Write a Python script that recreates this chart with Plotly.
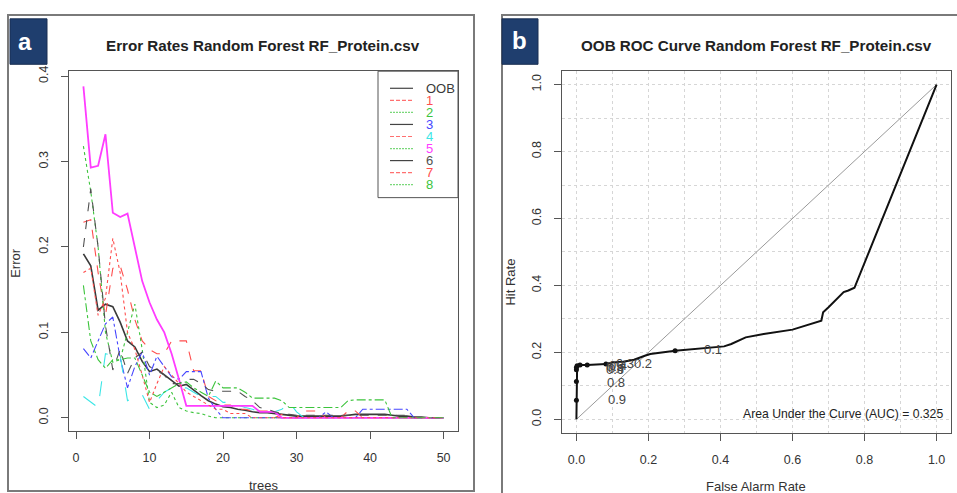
import plotly.graph_objects as go

W, H = 957, 493

# ---------------- data: panel a (error rates) ----------------
trees = list(range(1, 51))
err_oob = [0.192,0.178,0.126,0.133,0.130,0.112,0.090,0.083,0.066,0.054,
           0.057,0.050,0.043,0.037,0.039,0.032,0.026,0.020,0.016,0.013,
           0.012,0.010,0.009,0.007,0.006,0.006,0.005,0.004,0.003,0.002,
           0.002,0.002,0.002,0.002,0.002,0.002,0.003,0.004,0.004,0.004,
           0.004,0.004,0.003,0.002,0.002,0.001,0.001,0.000,0.000,0.000]
err_1 = [0.229,0.232,0.170,0.120,0.175,0.178,0.150,0.115,0.090,0.080,
         0.075,0.075,0.090,0.090,0.090,0.055,0.055,0.025,0.020,0.015,
         0.015,0.010,0.010,0.008,0.008,0.008,0.000,0.004,0.000,0.000,
         0.008,0.008,0.008,0.000,0.000,0.000,0.008,0.008,0.000,0.000,
         0.000,0.000,0.000,0.000,0.000,0.000,0.000,0.000,0.000,0.000]
err_2 = [0.318,0.265,0.200,0.100,0.065,0.068,0.100,0.133,0.080,0.018,
         0.012,0.015,0.030,0.012,0.008,0.006,0.005,0.002,0.000,0.000,
         0.000,0.000,0.000,0.000,0.000,0.000,0.000,0.000,0.000,0.000,
         0.000,0.000,0.000,0.000,0.000,0.000,0.000,0.000,0.000,0.000,
         0.000,0.000,0.000,0.000,0.000,0.000,0.000,0.000,0.000,0.000]
err_3 = [0.081,0.070,0.090,0.110,0.118,0.070,0.035,0.060,0.077,0.050,
         0.072,0.060,0.048,0.045,0.054,0.054,0.054,0.023,0.010,0.000,
         0.000,0.000,0.000,0.000,0.000,0.000,0.000,0.000,0.000,0.000,
         0.000,0.000,0.000,0.007,0.000,0.000,0.000,0.000,0.010,0.010,
         0.010,0.010,0.010,0.010,0.010,0.000,0.000,0.000,0.000,0.000]
err_4 = [0.025,0.018,0.012,0.075,0.073,0.073,0.020,0.024,0.027,0.010,
         0.020,0.030,0.035,0.035,0.035,0.030,0.025,0.025,0.025,0.018,
         0.018,0.015,0.012,0.010,0.007,0.007,0.007,0.010,0.018,0.007,
         0.000,0.000,0.000,0.000,0.000,0.000,0.000,0.000,0.000,0.000,
         0.000,0.000,0.000,0.000,0.000,0.000,0.000,0.000,0.000,0.000]
err_5 = [0.388,0.293,0.295,0.332,0.240,0.235,0.239,0.200,0.160,0.135,
         0.115,0.100,0.075,0.045,0.014,0.014,0.014,0.014,0.014,0.014,
         0.014,0.014,0.014,0.014,0.007,0.007,0.007,0.000,0.000,0.000,
         0.000,0.000,0.000,0.000,0.000,0.000,0.000,0.000,0.000,0.000,
         0.000,0.000,0.000,0.000,0.000,0.000,0.000,0.000,0.000,0.000]
err_6 = [0.200,0.268,0.200,0.108,0.056,0.080,0.052,0.070,0.077,0.060,
         0.055,0.050,0.040,0.040,0.045,0.045,0.040,0.033,0.031,0.031,
         0.031,0.031,0.025,0.020,0.012,0.010,0.007,0.005,0.004,0.003,
         0.003,0.003,0.003,0.003,0.003,0.003,0.003,0.003,0.003,0.003,
         0.003,0.003,0.003,0.003,0.003,0.000,0.000,0.000,0.000,0.000]
err_7 = [0.170,0.175,0.120,0.140,0.210,0.170,0.100,0.080,0.050,0.018,
         0.040,0.060,0.050,0.040,0.030,0.025,0.020,0.015,0.010,0.010,
         0.005,0.005,0.005,0.000,0.000,0.000,0.000,0.000,0.000,0.000,
         0.000,0.000,0.000,0.000,0.000,0.000,0.000,0.000,0.000,0.000,
         0.000,0.000,0.000,0.000,0.000,0.000,0.000,0.000,0.000,0.000]
err_8 = [0.155,0.090,0.068,0.058,0.068,0.068,0.070,0.070,0.050,0.030,
         0.025,0.030,0.035,0.040,0.042,0.035,0.030,0.025,0.043,0.035,
         0.035,0.035,0.030,0.023,0.023,0.023,0.023,0.020,0.012,0.012,
         0.012,0.012,0.012,0.012,0.012,0.012,0.020,0.021,0.021,0.021,
         0.021,0.021,0.000,0.000,0.000,0.000,0.000,0.000,0.000,0.000]

series_names = ["OOB", "1", "2", "3", "4", "5", "6", "7", "8"]
series_vals = [err_oob, err_1, err_2, err_3, err_4, err_5, err_6, err_7, err_8]
series_colors = ["#3a3a3a", "#ff4d4d", "#3cc43c", "#4646ff", "#3ce6e6",
                 "#ff3cff", "#505050", "#ff4d4d", "#3cc43c"]
series_dash = ["solid", "dash", "dot", "dashdot", "longdash",
               "solid", "dash", "dot", "dashdot"]
series_width = [1.6, 1.1, 1.1, 1.1, 1.1, 1.8, 1.1, 1.1, 1.1]
legend_line_colors = ["#444444", "#ff7070", "#7ad87a"] * 3
legend_line_dash = ["solid", "4px,2px", "2px,1px"] * 3

xticks_a = [0, 10, 20, 30, 40, 50]
yticks_a = [0.0, 0.1, 0.2, 0.3, 0.4]

# ---------------- data: panel b (ROC) ----------------
roc_far = [0.0, 0.0, 0.0, 0.0, 0.0, 0.002, 0.010, 0.030, 0.082, 0.100,
           0.130, 0.160, 0.190, 0.205, 0.274, 0.350, 0.410, 0.430, 0.450,
           0.470, 0.520, 0.600, 0.680, 0.685, 0.700, 0.720, 0.735, 0.742,
           0.755, 0.765, 0.772, 1.0]
roc_hit = [0.0, 0.057, 0.113, 0.148, 0.155, 0.160, 0.162, 0.162, 0.165,
           0.170, 0.172, 0.178, 0.190, 0.195, 0.205, 0.212, 0.218, 0.225,
           0.235, 0.245, 0.255, 0.268, 0.295, 0.320, 0.335, 0.355, 0.370,
           0.380, 0.385, 0.390, 0.393, 1.0]
thr_labels = ["0.9", "0.8", "0.7", "0.6", "0.5", "0.4", "0.3", "0.2", "0.1"]
thr_far = [0.0, 0.0, 0.0, 0.0, 0.002, 0.010, 0.030, 0.082, 0.274]
thr_hit = [0.057, 0.113, 0.148, 0.155, 0.160, 0.162, 0.162, 0.165, 0.205]
thr_text_x = [0.114, 0.111, 0.112, 0.106, 0.108, 0.116, 0.136, 0.185, 0.380]
thr_text_y = [0.060, 0.110, 0.152, 0.148, 0.158, 0.162, 0.168, 0.167, 0.208]
auc_text = "Area Under the Curve (AUC) = 0.325"
ticks_b = [0.0, 0.2, 0.4, 0.6, 0.8, 1.0]

FONT = "Liberation Sans, Arial, sans-serif"
px = lambda x: x / W
py = lambda y: 1 - y / H

fig = go.Figure()

for name, vals, col, dash, wd in zip(series_names, series_vals, series_colors,
                                     series_dash, series_width):
    fig.add_trace(go.Scatter(x=trees, y=vals, mode="lines", name=name,
                             line=dict(color=col, dash=dash, width=wd),
                             xaxis="x", yaxis="y", showlegend=False))

fig.add_trace(go.Scatter(x=[0, 1], y=[0, 1], mode="lines",
                         line=dict(color="#9a9a9a", width=1),
                         xaxis="x2", yaxis="y2", showlegend=False))
fig.add_trace(go.Scatter(x=roc_far, y=roc_hit, mode="lines",
                         line=dict(color="#111111", width=2),
                         xaxis="x2", yaxis="y2", showlegend=False))
fig.add_trace(go.Scatter(x=thr_far, y=thr_hit, mode="markers",
                         marker=dict(color="#111111", size=5),
                         xaxis="x2", yaxis="y2", showlegend=False))

axis_common = dict(showline=True, linecolor="#555555", linewidth=1, mirror=True,
                   ticks="outside", ticklen=7, tickcolor="#555555",
                   zeroline=False,
                   tickfont=dict(family=FONT, size=12.5, color="#333333"))
grid_b = dict(showgrid=True, gridcolor="#d6d6d6", griddash="dot", gridwidth=1,
              minor=dict(dtick=0.1, tick0=0, showgrid=True, gridcolor="#d6d6d6",
                         griddash="dot", ticks=""))

fig.update_layout(
    width=W, height=H, margin=dict(l=0, r=0, t=0, b=0),
    paper_bgcolor="white", plot_bgcolor="white",
    xaxis=dict(domain=[px(69), px(458)], range=[-0.96, 51.96], anchor="y",
               tickvals=xticks_a, ticklabelstandoff=8, showgrid=False, **axis_common),
    yaxis=dict(domain=[py(430), py(66)], range=[-0.0152, 0.4058], anchor="x",
               tickvals=yticks_a, tickangle=-90, ticklabelstandoff=8,
               tickformat=".1f", showgrid=False, **axis_common),
    xaxis2=dict(domain=[px(562), px(951)], range=[-0.04, 1.04], anchor="y2",
                tickvals=ticks_b, tickformat=".1f", ticklabelstandoff=8,
                **axis_common, **grid_b),
    yaxis2=dict(domain=[py(432), py(66)], range=[-0.04, 1.04], anchor="x2",
                tickvals=ticks_b, tickformat=".1f", tickangle=-90, ticklabelstandoff=8,
                **axis_common, **grid_b),
)

shapes = []
# panel frames
shapes.append(dict(type="rect", xref="paper", yref="paper", x0=px(8), x1=px(474),
                   y0=py(491), y1=py(9), line=dict(color="#7a7a7a", width=2)))
shapes.append(dict(type="rect", xref="paper", yref="paper", x0=px(502), x1=px(965),
                   y0=py(500), y1=py(9), line=dict(color="#7a7a7a", width=2)))
# blue label boxes
for x0, x1 in [(10, 47), (502, 538)]:
    shapes.append(dict(type="rect", xref="paper", yref="paper", x0=px(x0), x1=px(x1),
                       y0=py(59), y1=py(13), fillcolor="#1f3e6e",
                       line=dict(color="#1a2f52", width=1)))
# legend box
shapes.append(dict(type="rect", xref="paper", yref="paper", x0=px(378), x1=px(458),
                   y0=py(194), y1=py(66), fillcolor="white",
                   line=dict(color="#555555", width=1)))
annotations = []
leg_y0, leg_dy = 83.3, 12.2
for i, name in enumerate(series_names):
    yy = leg_y0 + i * leg_dy
    shapes.append(dict(type="line", xref="paper", yref="paper", x0=px(390), x1=px(413),
                       y0=py(yy), y1=py(yy),
                       line=dict(color=legend_line_colors[i], dash=legend_line_dash[i],
                                 width=1.2)))
    annotations.append(dict(text=name, xref="paper", yref="paper", x=px(424), y=py(yy),
                            xanchor="left", yanchor="middle", showarrow=False,
                            font=dict(family=FONT, size=13, color=series_colors[i])))


def ann(text, x, y, size=12, color="#333333", angle=0, xanchor="center", bold=False):
    return dict(text=f"<b>{text}</b>" if bold else text, x=px(x), y=py(y),
                xref="paper", yref="paper", xanchor=xanchor, yanchor="middle",
                textangle=angle, showarrow=False,
                font=dict(family=FONT, size=size, color=color))


annotations += [
    ann("a", 25, 36, size=24, color="white", bold=True),
    ann("b", 519, 35, size=24, color="white", bold=True),
    ann("Error Rates Random Forest RF_Protein.csv", 263, 40, size=15.2,
        color="#222222", bold=True),
    ann("OOB ROC Curve Random Forest RF_Protein.csv", 756, 40, size=15.2,
        color="#222222", bold=True),
    ann("trees", 263, 485, size=13),
    ann("Error", 16, 260, size=13, angle=-90),
    ann("False Alarm Rate", 756, 486, size=13),
    ann("Hit Rate", 511, 280, size=13, angle=-90),
    ann(auc_text, 945, 413, size=12.2, color="#222222", xanchor="right"),
]
for lab, tx, ty in zip(thr_labels, thr_text_x, thr_text_y):
    annotations.append(dict(text=lab, x=tx, y=ty, xref="x2", yref="y2", showarrow=False,
                            xanchor="center", yanchor="middle",
                            font=dict(family=FONT, size=13, color="#444444")))

fig.update_layout(shapes=shapes, annotations=annotations)
fig.write_html("out.html")
